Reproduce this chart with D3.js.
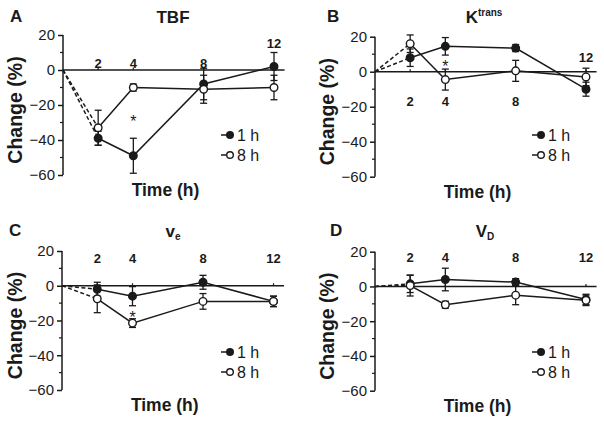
<!DOCTYPE html>
<html><head><meta charset="utf-8">
<script src="https://cdn.jsdelivr.net/npm/d3@7"></script>
<style>body{margin:0;background:#fff}svg{display:block;font-family:"Liberation Sans",Arial,sans-serif}</style>
</head><body><svg id="c" width="604" height="435"></svg>
<script>
// ---- data ----
const times = [2, 4, 8, 12];
const timeLabels = ["2", "4", "8", "12"];
const yTicks = [20, 0, -20, -40, -60];
const seriesNames = ["1 h", "8 h"];

const tbf1h = [-39, -49, -8, 2];
const tbf1hErr = [4, 10, 9, 8];
const tbf8h = [-33, -10, -11, -10];
const tbf8hErr = [10, 2, 8, 7];

const ktrans1h = [8, 14.5, 13.5, -10];
const ktrans1hErr = [5, 5, 2, 4];
const ktrans8h = [16, -4.5, 0.5, -3];
const ktrans8hErr = [5, 6, 6, 5];

const ve1h = [-2, -6, 2, -9];
const ve1hErr = [4, 5.5, 4, 3];
const ve8h = [-7.5, -21.5, -9, -9];
const ve8hErr = [8, 2.5, 4.5, 3];

const vd1h = [1.5, 4, 2.5, -7.5];
const vd1hErr = [5, 6.5, 2, 3];
const vd8h = [0.5, -10.5, -5, -8];
const vd8hErr = [6, 2, 5.5, 3];

// ---- layout ----
const panels = [
  {letter:"A", title:["TBF",""], titleMode:"", d1:tbf1h, e1:tbf1hErr, d8:tbf8h, e8:tbf8hErr,
   xr:[63,274], yr:[35,175], lx:10, ly:22, tx:173, ty:23, ylx:15, tlY:[4,4,4,15.5], star:[4,-26],
   legX:230, legY:[135,155]},
  {letter:"B", title:["K","trans"], titleMode:"sup", d1:ktrans1h, e1:ktrans1hErr, d8:ktrans8h, e8:ktrans8hErr,
   xr:[375,586], yr:[36.7,176.7], lx:327, ly:22, tx:484, ty:23, ylx:327, tlY:[-17,-17,-17,8.5], star:[4,6],
   legX:541, legY:[135,155]},
  {letter:"C", title:["v","e"], titleMode:"sub", d1:ve1h, e1:ve1hErr, d8:ve8h, e8:ve8hErr,
   xr:[62,273.5], yr:[251,390], lx:9, ly:236, tx:173, ty:237, ylx:15, tlY:[16,16,16,16], star:[4,-15],
   legX:230, legY:[352,372]},
  {letter:"D", title:["V","D"], titleMode:"sub", d1:vd1h, e1:vd1hErr, d8:vd8h, e8:vd8hErr,
   xr:[375,586], yr:[251.7,390.7], lx:330, ly:236, tx:485, ty:237, ylx:327, tlY:[16.5,16.5,16.5,16.5], star:null,
   legX:541, legY:[352,372]}
];

const svg = d3.select("#c");
const ink = "#1a1a1a";

panels.forEach(p => {
  const g = svg.append("g");
  const x = d3.scaleLinear().domain([0,12]).range(p.xr);
  const y = d3.scaleLinear().domain([20,-60]).range(p.yr);

  // y axis
  const ax = d3.axisLeft(y).tickValues(yTicks).tickSize(5).tickPadding(3)
    .tickFormat(d => d < 0 ? "\u2212" + Math.abs(d) : d);
  const axg = g.append("g").attr("transform", `translate(${x(0)},0)`).call(ax);
  axg.select(".domain").attr("stroke", ink).attr("stroke-width", 1.5).attr("d", `M0,${y(20)}V${y(-60)}`);
  axg.selectAll(".tick line").attr("stroke", ink).attr("stroke-width", 1.5);
  axg.selectAll(".tick text").attr("font-size", 15).attr("fill", ink).attr("font-family", "Liberation Sans, Arial, sans-serif");
  // minor ticks
  g.selectAll(".minor").data([10,-10,-30,-50]).join("line")
    .attr("x1", x(0)-3).attr("x2", x(0)).attr("y1", d=>y(d)).attr("y2", d=>y(d))
    .attr("stroke", ink).attr("stroke-width", 1.2);

  // zero line
  g.append("line").attr("x1", x(0)).attr("x2", x(12.6)).attr("y1", y(0)).attr("y2", y(0))
    .attr("stroke", ink).attr("stroke-width", 1.5);
  g.selectAll(".xt").data(times).join("line")
    .attr("x1", d=>x(d)).attr("x2", d=>x(d)).attr("y1", y(0)).attr("y2", y(0)-2.5)
    .attr("stroke", ink).attr("stroke-width", 1.2);
  // x tick labels
  g.selectAll(".xl").data(timeLabels).join("text")
    .attr("x", (d,i)=>x(times[i])).attr("y", (d,i)=>y(p.tlY[i]))
    .attr("dy", "0.36em").attr("text-anchor","middle")
    .attr("font-size", 13).attr("font-weight","bold").attr("fill", ink).text(d=>d);

  // dashed lead-in lines
  [p.d1, p.d8].forEach(arr => {
    g.append("line").attr("x1", x(0)).attr("y1", y(0)).attr("x2", x(times[0])).attr("y2", y(arr[0]))
      .attr("stroke", ink).attr("stroke-width", 1.5).attr("stroke-dasharray", "4,2.5");
  });

  const line = d3.line().x((d,i)=>x(times[i])).y(d=>y(d));
  const series = [{v:p.d1, e:p.e1, fill:ink}, {v:p.d8, e:p.e8, fill:"#fff"}];
  series.forEach(s => {
    g.append("path").attr("d", line(s.v)).attr("fill","none").attr("stroke", ink).attr("stroke-width", 1.5);
  });
  series.forEach(s => {
    s.v.forEach((v,i) => {
      const cx = x(times[i]);
      g.append("line").attr("x1",cx).attr("x2",cx).attr("y1",y(v+s.e[i])).attr("y2",y(v-s.e[i]))
        .attr("stroke", ink).attr("stroke-width", 1.3);
      [v+s.e[i], v-s.e[i]].forEach(ev => {
        g.append("line").attr("x1",cx-3.5).attr("x2",cx+3.5).attr("y1",y(ev)).attr("y2",y(ev))
          .attr("stroke", ink).attr("stroke-width", 1.3);
      });
    });
  });
  series.forEach(s => {
    g.selectAll(null).data(s.v).join("circle")
      .attr("cx",(d,i)=>x(times[i])).attr("cy", d=>y(d)).attr("r", 3.8)
      .attr("fill", s.fill).attr("stroke", ink).attr("stroke-width", 1.4);
  });

  // asterisk
  if (p.star) {
    g.append("text").attr("x", x(p.star[0])).attr("y", y(p.star[1])).attr("dy","0.7em")
      .attr("text-anchor","middle").attr("font-size", 16).attr("fill", ink).text("*");
  }

  // legend
  seriesNames.forEach((nm, i) => {
    const ly = p.legY[i];
    g.append("line").attr("x1", p.legX-9).attr("x2", p.legX).attr("y1", ly).attr("y2", ly)
      .attr("stroke", ink).attr("stroke-width", 1.5);
    g.append("circle").attr("cx", p.legX).attr("cy", ly).attr("r", 3.3)
      .attr("fill", i===0?ink:"#fff").attr("stroke", ink).attr("stroke-width", 1.4);
    g.append("text").attr("x", p.legX+7).attr("y", ly).attr("dy","0.36em")
      .attr("font-size", 16).attr("fill", ink).text(nm);
  });

  // panel letter
  g.append("text").attr("x", p.lx).attr("y", p.ly).attr("font-size", 17).attr("font-weight","bold")
    .attr("fill", ink).text(p.letter);

  // title
  const t = g.append("text").attr("x", p.tx).attr("y", p.ty).attr("text-anchor","middle")
    .attr("font-size", 17).attr("font-weight","bold").attr("fill", ink);
  t.append("tspan").text(p.title[0]);
  if (p.titleMode === "sup") t.append("tspan").attr("font-size", 10).attr("dy", -7).text(p.title[1]);
  if (p.titleMode === "sub") t.append("tspan").attr("font-size", 10).attr("dy", 3).text(p.title[1]);

  // y label
  const ymid = (p.yr[0]+p.yr[1])/2 + 5;
  g.append("text").attr("transform", `translate(${p.ylx},${ymid}) rotate(-90)`)
    .attr("text-anchor","middle").attr("dy","0.36em").attr("font-size", 19.5).attr("font-weight","bold")
    .attr("fill", ink).text("Change (%)");

  // x label
  g.append("text").attr("x", (p.xr[0]+p.xr[1])/2 - 3).attr("y", p.yr[1]+21)
    .attr("text-anchor","middle").attr("font-size", 17.5).attr("font-weight","bold")
    .attr("fill", ink).text("Time (h)");
});
</script></body></html>
